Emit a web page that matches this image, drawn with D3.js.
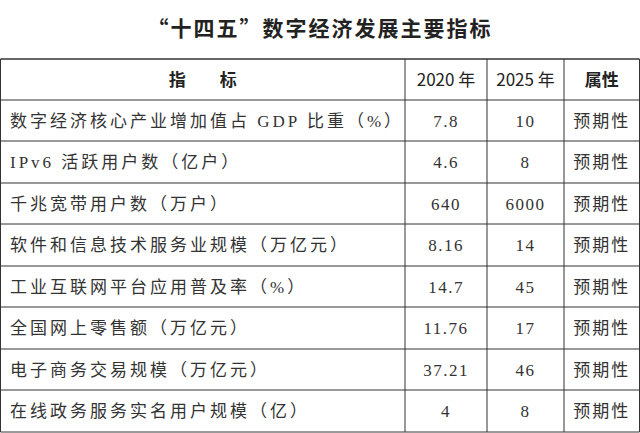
<!DOCTYPE html>
<html><head><meta charset="utf-8">
<script src="https://cdn.jsdelivr.net/npm/d3@7"></script>
<style>body{margin:0;background:#fff}</style>
</head><body><svg id="c"></svg>
<script>
const title = "“十四五”数字经济发展主要指标";
const headers = ["指　　标", "2020 年", "2025 年", "属性"];
const indicators = [
  "数字经济核心产业增加值占 GDP 比重（%）",
  "IPv6 活跃用户数（亿户）",
  "千兆宽带用户数（万户）",
  "软件和信息技术服务业规模（万亿元）",
  "工业互联网平台应用普及率（%）",
  "全国网上零售额（万亿元）",
  "电子商务交易规模（万亿元）",
  "在线政务服务实名用户规模（亿）"
];
const values2020 = ["7.8", "4.6", "640", "8.16", "14.7", "11.76", "37.21", "4"];
const values2025 = ["10", "8", "6000", "14", "45", "17", "46", "8"];
const attrs = ["预期性", "预期性", "预期性", "预期性", "预期性", "预期性", "预期性", "预期性"];

const width = 640, height = 433;
const svg = d3.select("#c").attr("width", width).attr("height", height);

svg.append("text").attr("x", 320).attr("y", 36).attr("text-anchor", "middle")
  .style("font-family", "Noto Sans CJK SC").style("font-weight", "bold")
  .style("font-size", "21px").style("letter-spacing", "2px").style("fill", "#222").text(title);

// column edges and row edges
const colEdges = [0.5, 405, 487, 564, 639.5];
const rowEdges = [59, 100, 141, 183, 224, 266, 307, 349, 390, 432];

const g = svg.append("g");
rowEdges.forEach(y => g.append("line").attr("x1", colEdges[0]).attr("x2", colEdges[4])
  .attr("y1", y).attr("y2", y).style("stroke", "#333").style("stroke-width", y === 59 ? 1.6 : 1));
colEdges.forEach(x => g.append("line").attr("x1", x).attr("x2", x)
  .attr("y1", rowEdges[0]).attr("y2", rowEdges[rowEdges.length - 1]).style("stroke", "#333"));

// header
headers.forEach((h, i) => {
  svg.append("text").attr("x", (colEdges[i] + colEdges[i + 1]) / 2).attr("y", 86)
    .attr("text-anchor", "middle").style("font-family", "Noto Sans CJK SC")
    .style("font-weight", i === 0 || i === 3 ? "bold" : "normal")
    .style("font-size", "17px").style("fill", "#222").text(h);
});

const cellFont = "'Liberation Serif', 'Noto Sans CJK SC'";
indicators.forEach((name, r) => {
  const y = (rowEdges[r + 1] + rowEdges[r + 2]) / 2 + 6;
  svg.append("text").attr("x", 10).attr("y", y)
    .style("font-family", cellFont).style("font-size", "17px")
    .style("letter-spacing", "3px").style("fill", "#333").text(name);
  [values2020[r], values2025[r], attrs[r]].forEach((v, k) => {
    svg.append("text").attr("x", (colEdges[k + 1] + colEdges[k + 2]) / 2).attr("y", y)
      .attr("text-anchor", "middle").style("font-family", cellFont)
      .style("font-size", "17px").style("letter-spacing", k < 2 ? "1.5px" : "2px")
      .style("fill", "#333").text(v);
  });
});
</script></body></html>
